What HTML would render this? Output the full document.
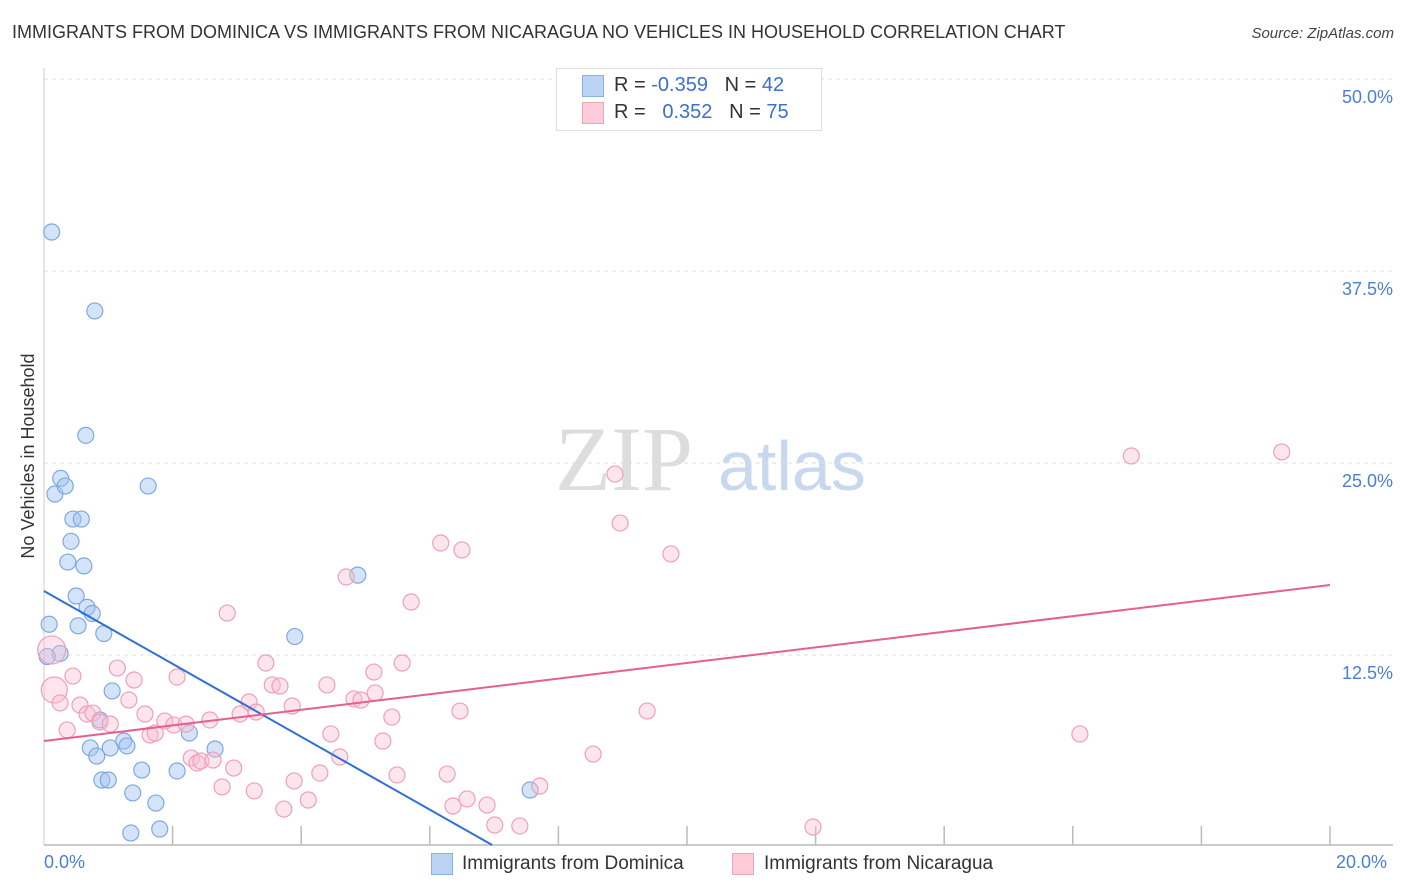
<!DOCTYPE html>
<html><head><meta charset="utf-8"><style>
body{margin:0;background:#fff;font-family:"Liberation Sans",sans-serif}
#wrap{position:relative;width:1406px;height:892px;overflow:hidden}
.t{position:absolute;white-space:nowrap}
</style></head><body>
<div id="wrap">
<div class="t" style="left:12px;top:22px;font-size:18px;color:#333">IMMIGRANTS FROM DOMINICA VS IMMIGRANTS FROM NICARAGUA NO VEHICLES IN HOUSEHOLD CORRELATION CHART</div>
<div class="t" style="right:12px;top:25px;font-size:15px;color:#444;font-style:italic">Source: ZipAtlas.com</div>
<svg id="svg" width="1406" height="892" style="position:absolute;left:0;top:0">
<text x="555" y="490" font-family="Liberation Serif" font-size="92" fill="#ddd">ZIP</text>
<text x="718" y="490" font-family="Liberation Sans" font-size="70" fill="#c8d8ef">atlas</text>
<text transform="translate(34,456) rotate(-90)" text-anchor="middle" font-size="18" fill="#333">No Vehicles in Household</text>
</svg>
<div class="t" style="left:556px;top:68px;width:264px;height:61px;border:1px solid #ddd;background:#fff"></div>
<div class="t" style="left:582px;top:75px;width:20px;height:20px;background:#bcd4f4;border:1px solid #8ab0e6"></div>
<div class="t" style="left:582px;top:102px;width:20px;height:20px;background:#fbcbd8;border:1px solid #eea6bb"></div>
<div class="t" style="left:614px;top:74px;font-size:20px;color:#333">R = <span style="color:#3b6fd0">-0.359</span>&nbsp;&nbsp;&nbsp;N = <span style="color:#3b6fd0">42</span></div>
<div class="t" style="left:614px;top:101px;font-size:20px;color:#333">R = &nbsp;&nbsp;<span style="color:#3b6fd0">0.352</span>&nbsp;&nbsp;&nbsp;N = <span style="color:#3b6fd0">75</span></div>
<div class="t" style="left:44px;top:852px;font-size:18px;color:#4a7fd4">0.0%</div>
<div class="t" style="left:1336px;top:852px;font-size:18px;color:#4a7fd4">20.0%</div>
<div class="t" style="left:431px;top:853px;width:20px;height:20px;background:#bcd4f4;border:1px solid #8ab0e6"></div>
<div class="t" style="left:462px;top:853px;font-size:19px;color:#333">Immigrants from Dominica</div>
<div class="t" style="left:732px;top:853px;width:20px;height:20px;background:#fbcbd8;border:1px solid #eea6bb"></div>
<div class="t" style="left:764px;top:853px;font-size:19px;color:#333">Immigrants from Nicaragua</div>
</div>
<script>
const yTicks=[12.5,25,37.5,50];
const yTickLabels=["12.5%","25.0%","37.5%","50.0%"];
const blueX=[0.12,0.79,0.65,0.26,0.17,0.33,1.62,0.45,0.58,0.42,0.37,0.62,0.50,0.67,0.75,0.53,0.08,0.93,0.25,0.05,3.90,4.88,1.06,0.72,0.82,1.03,1.24,1.29,0.90,1.00,2.26,2.66,1.52,2.07,1.38,1.74,1.35,1.80,7.56,0.87];
const blueY=[40.04,34.9,26.8,24.0,22.98,23.5,23.5,21.35,21.35,19.9,18.55,18.3,16.34,15.6,15.2,14.4,14.5,13.9,12.6,12.4,13.7,17.7,10.16,6.45,5.92,6.45,6.9,6.58,4.36,4.36,7.42,6.38,5.01,4.95,3.52,2.86,0.91,1.17,3.71,8.27];
const pinkX=[0.12,0.16,0.45,0.25,0.36,0.56,0.67,0.76,0.87,1.03,1.14,1.32,1.40,1.57,1.65,1.73,1.88,2.02,2.07,2.21,2.29,2.38,2.44,2.63,2.58,2.77,2.95,2.85,3.05,3.19,3.30,3.27,3.45,3.55,3.67,3.73,3.86,3.89,4.11,4.29,4.40,4.46,4.60,4.70,4.82,4.93,5.13,5.15,5.27,5.41,5.49,5.57,5.71,6.17,6.27,6.36,6.47,6.50,6.58,6.89,7.01,7.40,7.71,8.54,8.88,8.96,9.38,9.75,11.96,16.11,16.91,19.25];
const pinkY=[12.83,10.22,11.13,9.38,7.62,9.24,8.66,8.72,8.14,8.0,11.65,9.57,10.87,8.66,7.29,7.42,8.2,7.94,11.07,8.0,5.79,5.47,5.6,5.66,8.27,3.91,5.14,15.23,8.66,9.44,8.79,3.65,11.98,10.55,10.48,2.47,9.18,4.3,3.06,4.82,10.55,7.36,5.86,17.58,9.64,9.57,11.39,10.03,6.9,8.46,4.69,11.98,15.95,19.79,4.75,2.67,8.85,19.34,3.13,2.73,1.43,1.37,3.97,6.05,24.28,21.09,8.85,19.08,1.30,7.36,25.46,25.72];
const pinkR=[14,13];
const blueTrend=[16.67,0.13,6.97];
const pinkTrend=[6.9,17.06];
const X0=44,X1=1330,Y0=847,PXPERPCT=15.36;
const sx=v=>X0+(X1-X0)*v/20;
const sy=v=>Y0-v*PXPERPCT;
const svg=document.getElementById('svg');
const NS='http://www.w3.org/2000/svg';
function mk(tag,attrs){const e=document.createElementNS(NS,tag);for(const k in attrs)e.setAttribute(k,attrs[k]);svg.appendChild(e);return e;}
yTicks.forEach((t,i)=>{
 const l=mk('line',{x1:X0,x2:1393,y1:sy(t),y2:sy(t),stroke:'#ddd','stroke-dasharray':'4,4'});
 
 
 const tx=mk('text',{x:1393,y:sy(t)+24,'text-anchor':'end','font-size':18,fill:'#4a7fd4'});
 tx.textContent=yTickLabels[i];
 
 
});
const ax=mk('line',{x1:X0,x2:1393,y1:845,y2:845,stroke:'#bbb','stroke-width':1.5});


const ay=mk('line',{x1:X0,x2:X0,y1:68,y2:845,stroke:'#ccc','stroke-width':1});


for(let i=1;i<=10;i++){
 const tk=mk('line',{x1:sx(i*2),x2:sx(i*2),y1:826,y2:845,stroke:'#bbb','stroke-width':1.5});
 
 
}
blueX.forEach((v,i)=>{
 const c=mk('circle',{cx:sx(v),cy:sy(blueY[i]),r:8,fill:'rgba(160,195,240,0.45)',stroke:'#7fa8e0','stroke-width':1.2});
 
 
});
pinkX.forEach((v,i)=>{
 const c=mk('circle',{cx:sx(v),cy:sy(pinkY[i]),r:i<pinkR.length?pinkR[i]:8,fill:'rgba(250,190,210,0.4)',stroke:'#eea0b8','stroke-width':1.2});
 
 
});
const bl=mk('line',{x1:sx(0),y1:sy(blueTrend[0]),x2:sx(blueTrend[2]),y2:sy(blueTrend[1]),stroke:'#2f6fd6','stroke-width':2});


const pl=mk('line',{x1:sx(0),y1:sy(pinkTrend[0]),x2:sx(20),y2:sy(pinkTrend[1]),stroke:'#e5608c','stroke-width':2});


</script>
</body></html>
